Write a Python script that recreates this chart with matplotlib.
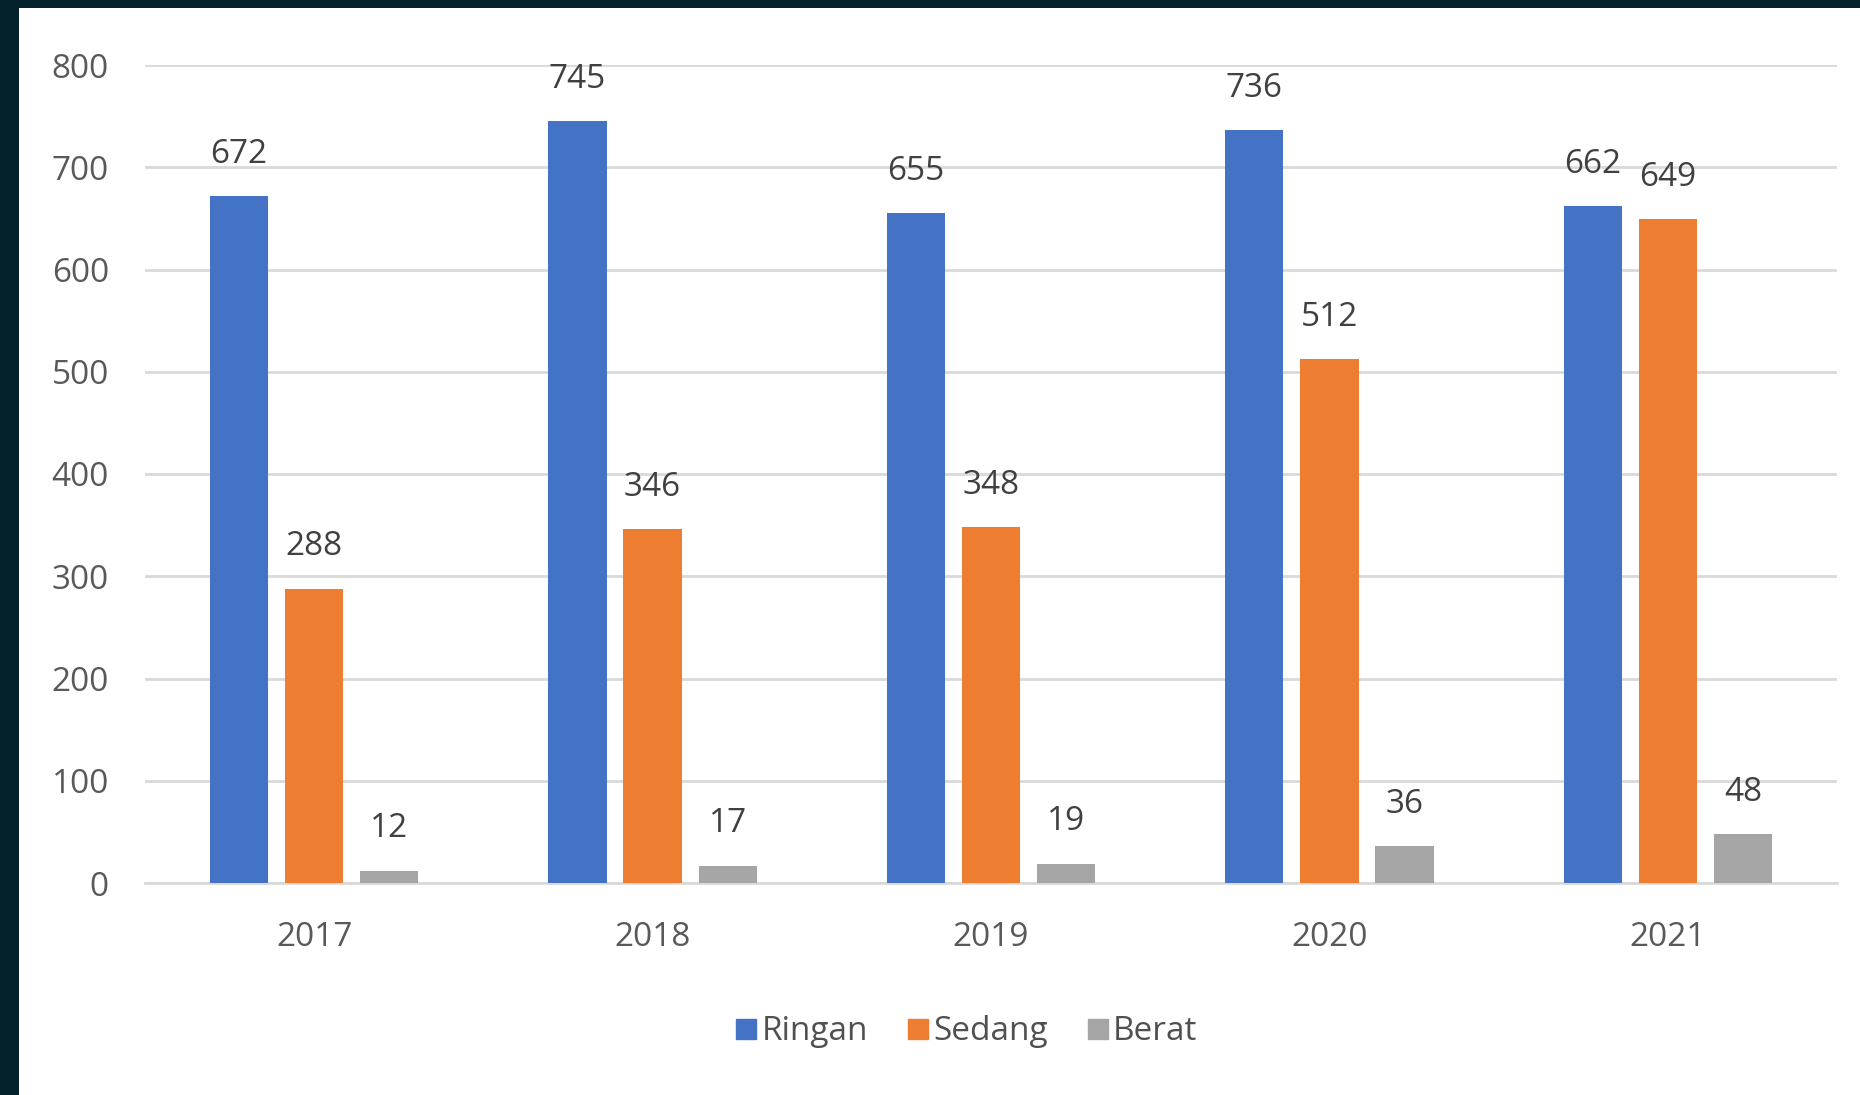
import matplotlib
matplotlib.use("Agg")
import matplotlib.pyplot as plt
from matplotlib.patches import Rectangle
from matplotlib.lines import Line2D
import numpy as np

years = ["2017", "2018", "2019", "2020", "2021"]
series_names = ["Ringan", "Sedang", "Berat"]
ringan = [672, 745, 655, 736, 662]
sedang = [288, 346, 348, 512, 649]
berat = [12, 17, 19, 36, 48]
colors = ["#4472C4", "#ED7D31", "#A5A5A5"]
yticks = [0, 100, 200, 300, 400, 500, 600, 700, 800]

plt.rcParams['font.family'] = ['Open Sans', 'DejaVu Sans']

W, H = 1860, 1095
fig = plt.figure(figsize=(W/100, H/100), dpi=100, facecolor="#03222C")
fig.patches.append(Rectangle((19/W, 0), 1 - 19/W, (H - 8)/H, transform=fig.transFigure,
                             facecolor="white", edgecolor="none", zorder=-10))

ax = fig.add_axes([145/W, 1 - 883/H, (1837 - 145)/W, (883 - 65)/H])
ax.set_facecolor("none")

x = np.arange(len(years))
bw = 0.172
step = 0.222
for i, (vals, c) in enumerate(zip([ringan, sedang, berat], colors)):
    xs = x + (i - 1) * step
    ax.bar(xs, vals, width=bw, color=c, zorder=3)
    for xi, v in zip(xs, vals):
        ax.annotate(str(v), (xi, v), xytext=(0, 24), textcoords="offset points",
                    ha="center", va="baseline", fontsize=24, color="#404040", zorder=4)

ax.set_xlim(-0.5, len(years) - 0.5)
ax.set_ylim(0, 800)
ax.set_yticks(yticks)
ax.set_xticks(x)
ax.set_xticklabels(years)
ax.grid(axis="y", color="#D9D9D9", linewidth=2, zorder=0)
ax.set_axisbelow(True)
for s in ["top", "right", "left"]:
    ax.spines[s].set_visible(False)
ax.spines["bottom"].set_color("#D9D9D9")
ax.spines["bottom"].set_linewidth(2)
ax.tick_params(axis="both", length=0, labelsize=24, labelcolor="#595959")
ax.tick_params(axis="y", pad=26)
ax.tick_params(axis="x", pad=27)

handles = [Line2D([], [], marker="s", linestyle="none", markersize=14.5,
                  markerfacecolor=c, markeredgecolor=c) for c in colors]
leg = fig.legend(handles, series_names, loc="center", bbox_to_anchor=(965/W, 1 - 1032/H),
                 ncol=3, frameon=False, fontsize=24, handletextpad=0.05,
                 columnspacing=1.1, handlelength=0.8, labelcolor="#505050")

fig.savefig("out.png", dpi=100, facecolor=fig.get_facecolor())
